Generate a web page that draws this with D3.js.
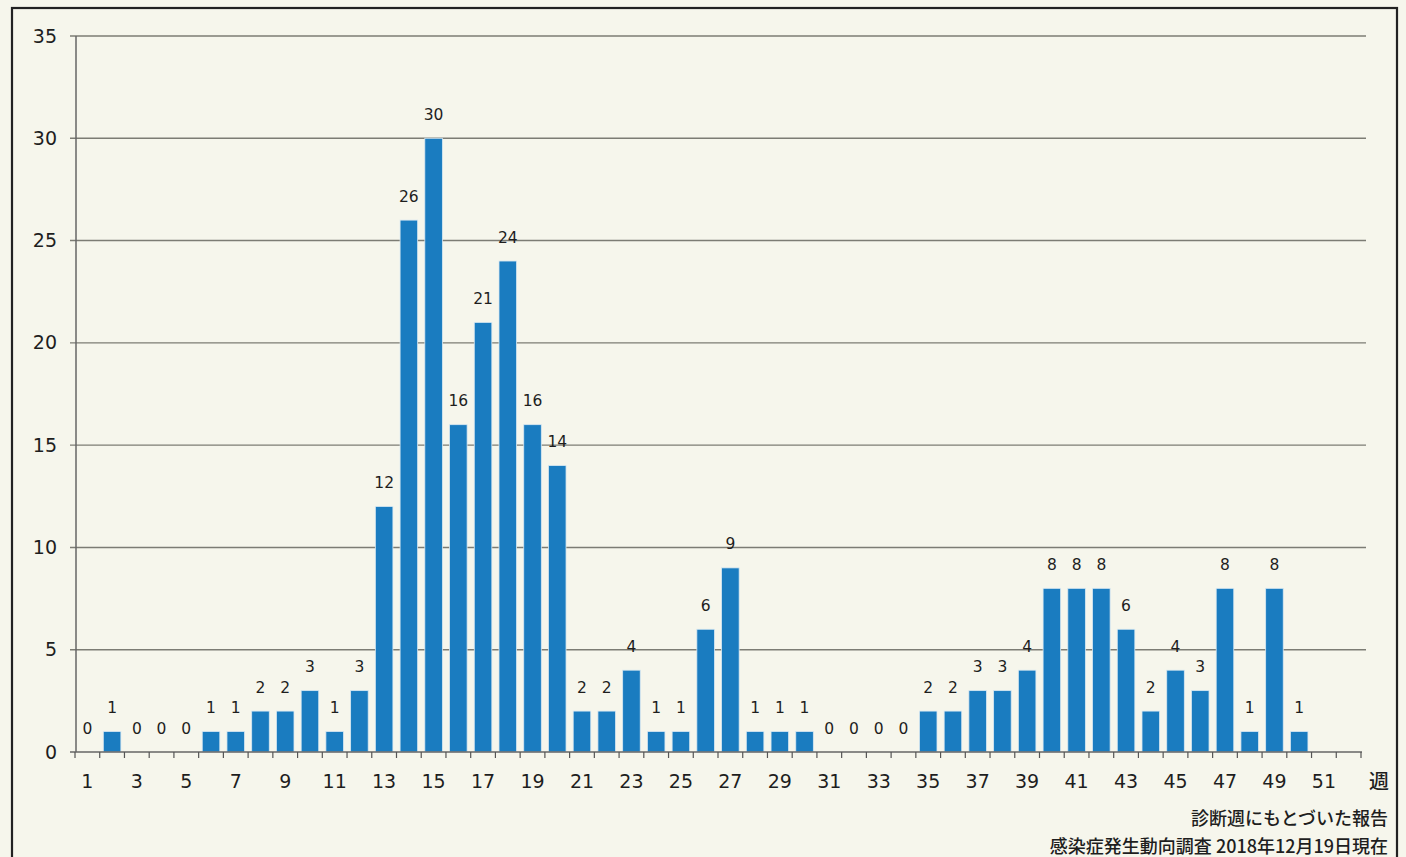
<!DOCTYPE html>
<html>
<head>
<meta charset="utf-8">
<script src="https://cdn.jsdelivr.net/npm/d3@7"></script>
<style>
  html, body { margin: 0; padding: 0; background: #f6f6ec; }
  svg { display: block; }
</style>
</head>
<body>
<svg id="chart" width="1406" height="857"></svg>
<script>
// Weekly report counts, weeks 1–52 (no report yet for 51–52)
const weeks = d3.range(1, 53);
const counts = [0, 1, 0, 0, 0, 1, 1, 2, 2, 3, 1, 3, 12, 26, 30, 16, 21, 24, 16, 14,
                2, 2, 4, 1, 1, 6, 9, 1, 1, 1, 0, 0, 0, 0, 2, 2, 3, 3, 4, 8,
                8, 8, 6, 2, 4, 3, 8, 1, 8, 1];
const yTicks = [0, 5, 10, 15, 20, 25, 30, 35];
const xTickLabels = d3.range(1, 52, 2);
const unitLabel = "週";
const noteLines = ["診断週にもとづいた報告", "感染症発生動向調査 2018年12月19日現在"];

const svg = d3.select("#chart");
const font = "'DejaVu Sans', Verdana, sans-serif";
const jpFont = "'Noto Sans CJK JP', sans-serif";

// outer frame
svg.append("rect")
  .attr("x", 12).attr("y", 8).attr("width", 1385).attr("height", 870)
  .attr("fill", "#f6f6ec").attr("stroke", "#222").attr("stroke-width", 2.2);

const x = d3.scaleBand().domain(weeks).range([75, 1361]).paddingInner(0.29).paddingOuter(0.145);
const y = d3.scaleLinear().domain([0, 35]).range([752, 36]);

// horizontal gridlines
svg.append("g").selectAll("line").data(yTicks.filter(d => d > 0)).join("line")
  .attr("x1", 70).attr("x2", 1366)
  .attr("y1", d => y(d)).attr("y2", d => y(d))
  .attr("stroke", "#7c7c74").attr("stroke-width", 1.4);

// y tick labels
svg.append("g").selectAll("text").data(yTicks).join("text")
  .attr("x", 57).attr("y", d => y(d) + 6.5)
  .attr("text-anchor", "end")
  .attr("font-family", font).attr("font-size", 19).attr("fill", "#1e1e1e")
  .text(d => d);

// y axis line
svg.append("line").attr("x1", 76).attr("x2", 76).attr("y1", y(35)).attr("y2", y(0))
  .attr("stroke", "#666").attr("stroke-width", 1.5);

// bars
const data = counts.map((v, i) => ({ week: weeks[i], value: v }));
svg.append("g").selectAll("rect").data(data).join("rect")
  .attr("x", d => x(d.week))
  .attr("width", x.bandwidth())
  .attr("y", d => y(d.value))
  .attr("height", d => y(0) - y(d.value))
  .attr("fill", "#1a7cc0")
  .attr("stroke", "#d8e8f2").attr("stroke-width", 0.8);

// value labels
svg.append("g").selectAll("text").data(data).join("text")
  .attr("x", d => x(d.week) + x.bandwidth() / 2)
  .attr("y", d => y(d.value) - 18.5)
  .attr("text-anchor", "middle")
  .attr("font-family", font).attr("font-size", 15.5).attr("fill", "#1e1e1e")
  .text(d => d.value);

// x axis line and ticks
svg.append("line").attr("x1", 70).attr("x2", 1362).attr("y1", y(0)).attr("y2", y(0))
  .attr("stroke", "#666").attr("stroke-width", 1.5);
const step = x.step();
const tickPos = d3.range(0, 53).map(i => x(weeks[0]) - step * x.paddingOuter() + i * step);
svg.append("g").selectAll("line").data(tickPos).join("line")
  .attr("x1", d => d).attr("x2", d => d)
  .attr("y1", y(0)).attr("y2", y(0) + 6)
  .attr("stroke", "#555").attr("stroke-width", 1.2);

// x tick labels
svg.append("g").selectAll("text").data(xTickLabels).join("text")
  .attr("x", d => x(d) + x.bandwidth() / 2)
  .attr("y", 788)
  .attr("text-anchor", "middle")
  .attr("font-family", font).attr("font-size", 19).attr("fill", "#1e1e1e")
  .text(d => d);

svg.append("text")
  .attr("x", 1379).attr("y", 789)
  .attr("text-anchor", "middle")
  .attr("font-family", jpFont).attr("font-size", 20).attr("font-weight", 500).attr("fill", "#1e1e1e")
  .text(unitLabel);

// source notes
svg.append("g").selectAll("text").data(noteLines).join("text")
  .attr("x", 1388).attr("y", (d, i) => 825 + i * 28)
  .attr("text-anchor", "end")
  .attr("font-family", jpFont).attr("font-size", 18).attr("font-weight", 500).attr("fill", "#1e1e1e")
  .text(d => d);
</script>
</body>
</html>
